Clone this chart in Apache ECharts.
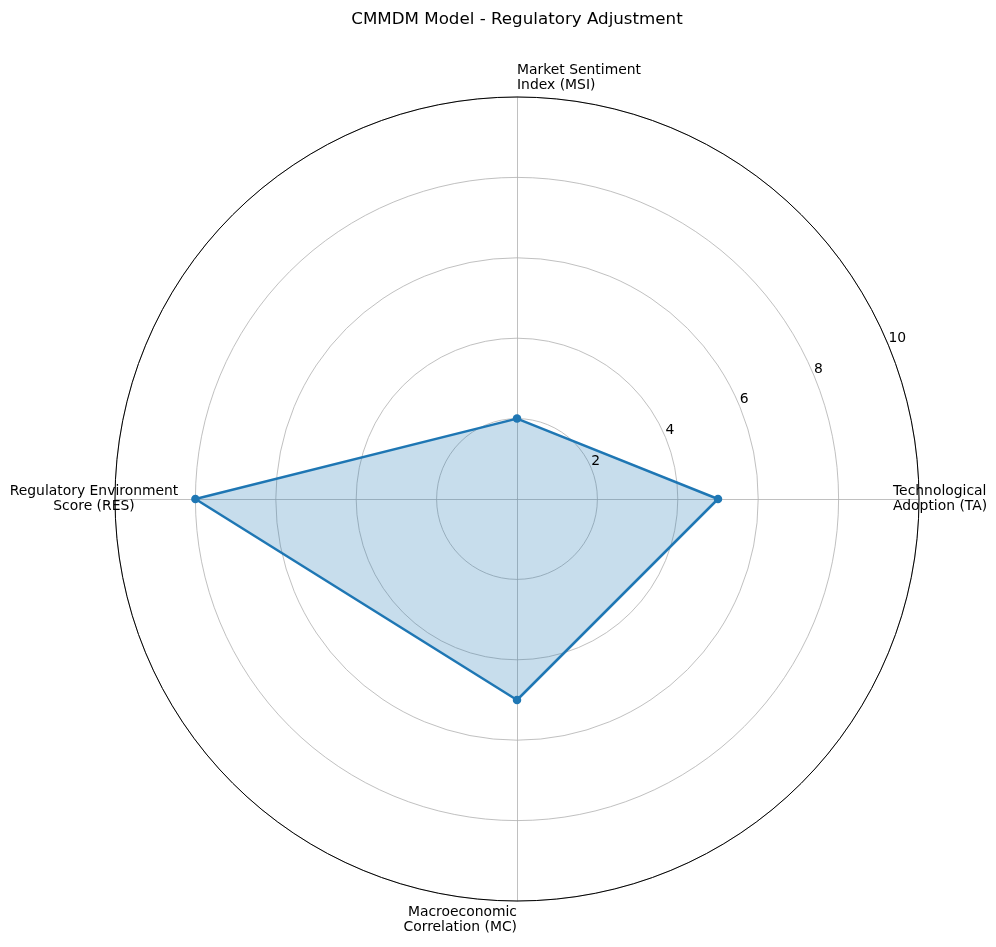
<!DOCTYPE html>
<html>
<head>
<meta charset="utf-8">
<script src="https://cdn.jsdelivr.net/npm/echarts@6/dist/echarts.min.js"></script>
<style>
html,body{margin:0;padding:0;background:#fff;}
#chart{width:996px;height:947px;}
</style>
</head>
<body>
<div id="chart"></div>
<script>
const titleText = 'CMMDM Model - Regulatory Adjustment';
const categories = ['Market Sentiment\nIndex (MSI)', 'Regulatory Environment\nScore (RES)', 'Macroeconomic\nCorrelation (MC)', 'Technological\nAdoption (TA)'];
const values = [2, 8, 5, 5];
const radialMax = 10;
const radialStep = 2;

const FONT = 'DejaVu Sans';
const center = [517, 499];
const R = 402;
const labelStyles = [
  {align: 'left', verticalAlign: 'bottom', offset: [0, -4]},
  {align: 'center', verticalAlign: 'middle', offset: [-21, 0]},
  {align: 'right', verticalAlign: 'top', offset: [0, 4]},
  {align: 'left', verticalAlign: 'middle', offset: [-26, 0]}
];

const chart = echarts.init(document.getElementById('chart'), null, {renderer: 'canvas'});
chart.setOption({
  backgroundColor: '#fff',
  animation: false,
  title: {
    text: titleText, left: 512, top: 6, textAlign: 'center',
    textStyle: {fontFamily: FONT, fontSize: 16.7, fontWeight: 'normal', color: '#000'}
  },
  radar: {
    center: center, radius: R, startAngle: 90, shape: 'circle', splitNumber: radialMax / radialStep,
    indicator: categories.map(n => ({name: n, min: 0, max: radialMax})),
    axisName: {show: false},
    axisLine: {lineStyle: {color: '#b0b0b0', width: 0.8}},
    splitLine: {lineStyle: {color: '#b0b0b0', width: 0.8}},
    splitArea: {show: false},
    axisTick: {show: false},
    axisLabel: {show: false}
  },
  polar: [
    {center: center, radius: R},
    {center: center, radius: R}
  ],
  angleAxis: [
    {
      polarIndex: 0, type: 'value', min: 0, max: 360, startAngle: 22.5, clockwise: false, z: 5,
      axisLine: {show: true, lineStyle: {color: '#000', width: 1}},
      axisTick: {show: false}, axisLabel: {show: false}, splitLine: {show: false}
    },
    {
      polarIndex: 1, type: 'category', data: categories, startAngle: 90, clockwise: false,
      boundaryGap: false, show: false
    }
  ],
  radiusAxis: [
    {
      polarIndex: 0, type: 'value', min: 0, max: radialMax, interval: radialStep, z: 5,
      axisLine: {show: false}, axisTick: {show: false}, splitLine: {show: false},
      axisLabel: {
        show: true, margin: 0, align: 'left', verticalAlign: 'bottom',
        fontFamily: FONT, fontSize: 13.9, color: '#000',
        formatter: v => (v === 0 ? '' : String(v))
      }
    },
    {polarIndex: 1, type: 'value', min: 0, max: radialMax, show: false}
  ],
  series: [
    {
      type: 'radar',
      symbol: 'circle', symbolSize: 8.5,
      lineStyle: {color: '#1f77b4', width: 2.5},
      itemStyle: {color: '#1f77b4'},
      areaStyle: {color: '#1f77b4', opacity: 0.25},
      data: [{value: values}]
    },
    {
      type: 'scatter', coordinateSystem: 'polar', polarIndex: 1,
      symbolSize: 0, silent: true,
      itemStyle: {opacity: 1, color: '#000'},
      label: {color: '#000', opacity: 1},
      data: categories.map((n, i) => ({
        value: [radialMax, i],
        label: Object.assign({
          show: true, position: [0, 0], formatter: n,
          fontFamily: FONT, fontSize: 13.9, lineHeight: 15, color: '#000', opacity: 1
        }, labelStyles[i])
      }))
    }
  ]
});
</script>
</body>
</html>
